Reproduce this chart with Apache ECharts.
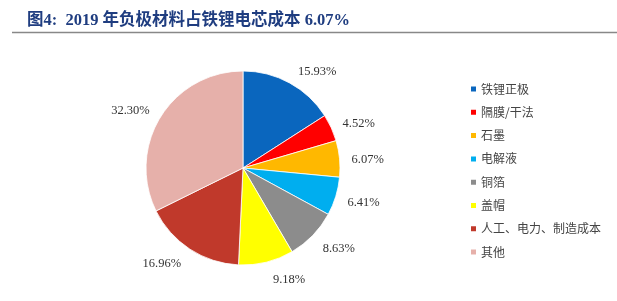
<!DOCTYPE html>
<html><head><meta charset="utf-8">
<script src="https://cdn.jsdelivr.net/npm/echarts@6/dist/echarts.min.js"></script>
<style>html,body{margin:0;padding:0;background:#fff}#c{width:617px;height:301px}</style>
</head><body><div id="c"></div>
<script>
const titleText = '图4:  2019 年负极材料占铁锂电芯成本 6.07%';
const categories = ['铁锂正极', '隔膜/干法', '石墨', '电解液', '铜箔', '盖帽', '人工、电力、制造成本', '其他'];
const values = [15.93, 4.52, 6.07, 6.41, 8.63, 9.18, 16.96, 32.30];
const colors = ['#0A66BE', '#FF0000', '#FFB800', '#00AEEF', '#8C8C8C', '#FFFF00', '#C0392B', '#E6B0AA'];

const total = values.reduce((a, b) => a + b, 0);
const midAngles = [];
let acc = 0;
values.forEach(v => { midAngles.push((acc + v / 2) / total * 2 * Math.PI); acc += v; });

const chart = echarts.init(document.getElementById('c'), null, {renderer: 'canvas'});
chart.setOption({
  animation: false,
  color: colors,
  title: {
    text: titleText,
    left: 22, top: 7,
    textStyle: {fontFamily: 'Liberation Serif, Noto Sans CJK SC', fontWeight: 'bold', fontSize: 16.5, color: '#1F3D80'}
  },
  graphic: [{
    type: 'line', shape: {x1: 12, y1: 32.5, x2: 617, y2: 32.5},
    style: {stroke: '#888', lineWidth: 1.5}
  }],
  legend: {
    orient: 'vertical', left: 464, top: 78,
    icon: 'rect', itemWidth: 7, itemHeight: 7, itemGap: 11.3,
    textStyle: {fontFamily: 'Noto Sans CJK SC', fontSize: 12, color: '#444', padding: [0,0,0,-1]},
    data: categories
  },
  series: [{
    type: 'pie',
    center: [243, 168],
    radius: [0, 97],
    startAngle: 90,
    clockwise: true,
    itemStyle: {borderColor: '#fff', borderWidth: 0.8},
    label: {
      show: true, position: 'outside',
      formatter: p => p.value.toFixed(2) + '%',
      fontFamily: 'Liberation Serif', fontSize: 12.5, color: '#333'
    },
    labelLine: {show: false, length: 7, length2: 0},
    labelLayout: p => ({dy: -Math.cos(midAngles[p.dataIndex]) * (p.labelRect.height / 2 + 2) + 2}),
    data: categories.map((c, i) => ({name: c, value: values[i]}))
  }]
});
</script></body></html>
